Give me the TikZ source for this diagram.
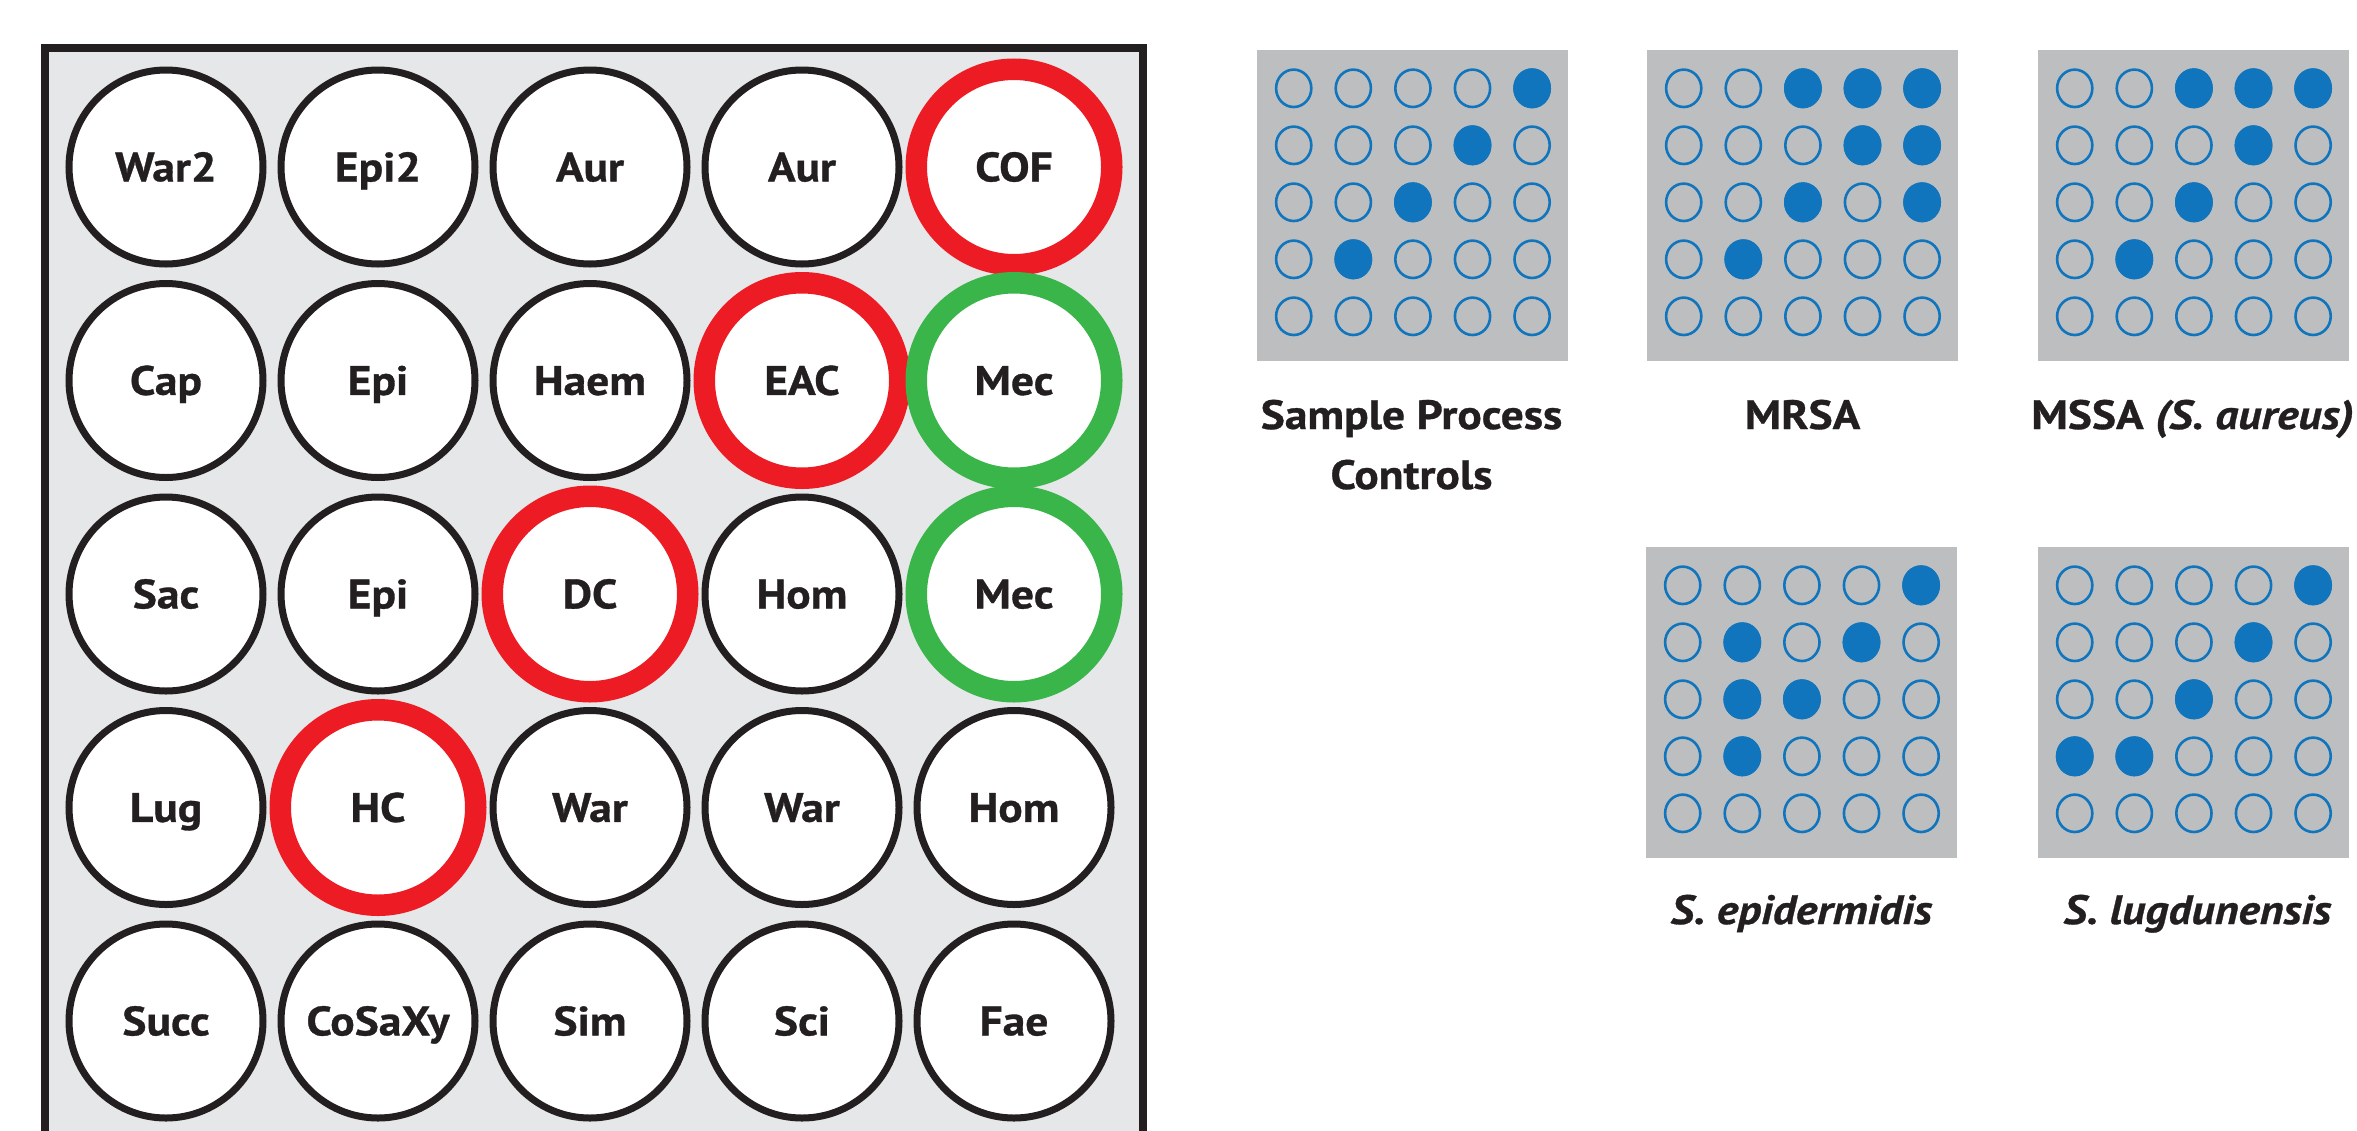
\documentclass[tikz,border=0pt]{standalone}
\usepackage{fontspec}
\setmainfont{PT Sans}[
  BoldFeatures={FakeStretch=1.11, FakeBold=0.8},
  BoldItalicFeatures={FakeStretch=1.11, FakeBold=0.8}]
\definecolor{ink}{HTML}{231F20}
\definecolor{panel}{HTML}{E6E7E8}
\definecolor{chip}{HTML}{BCBEC0}
\definecolor{dotblue}{HTML}{1075BC}
\definecolor{ringred}{HTML}{ED1C24}
\definecolor{ringgreen}{HTML}{39B54A}
\newcommand\labfont{\fontsize{41}{48}\selectfont\bfseries}
% one 5x5 detection chip: grey plate, open wells, filled (row/col) wells
\newcommand\chipgrid[3]{%
  \fill[chip] (#1,#2) rectangle ++(311,311);
  \foreach \rr in {0,...,4}{
    \foreach \cc in {0,...,4}{
      \draw[dotblue, line width=2.6pt] ({#1+36.7+59.6*\cc},{#2+38.3+57*\rr}) ellipse [x radius=17.6pt, y radius=18.7pt];
    }
  }
  \foreach \rr/\cc in {#3}{
    \fill[dotblue] ({#1+36.7+59.6*(\cc-1)},{#2+38.3+57*(\rr-1)}) ellipse [x radius=18.9pt, y radius=20pt];
  }
}
\begin{document}
\begin{tikzpicture}[x=1pt,y=-1pt,
  well/.style={circle, minimum size=194pt, inner sep=0pt, draw=ink, line width=7pt,
    fill=white, font=\labfont, text=ink, text height=28.7pt, text depth=0pt},
  redwell/.style={well, draw=ringred, line width=21.5pt, minimum size=195.5pt},
  greenwell/.style={well, draw=ringgreen, line width=21.5pt, minimum size=195.5pt},
  lab/.style={font=\labfont, text=ink, inner sep=0pt, anchor=base}]
\useasboundingbox (0,0) rectangle (2357,1130);
\clip (0,0) rectangle (2357,1130);
\fill[white] (0,0) rectangle (2357,1130);

% test panel with its 25 wells
\draw[line width=8pt, draw=ink, fill=panel] (45,48) rectangle (1143,1170);
\foreach \lab/\sty [count=\i from 0] in {
  War2/well, Epi2/well, Aur/well, Aur/well, COF/redwell,
  Cap/well, Epi/well, Haem/well, EAC/redwell, Mec/greenwell,
  Sac/well, Epi/well, DC/redwell, Hom/well, Mec/greenwell,
  Lug/well, HC/redwell, War/well, War/well, Hom/well,
  Succ/well, CoSaXy/well, Sim/well, Sci/well, Fae/well}{
  \pgfmathtruncatemacro\r{int(\i/5)}
  \pgfmathtruncatemacro\c{mod(\i,5)}
  \node[\sty] (w\i) at ({166+212*\c},{167+213.5*\r}) {\lab};
}

% result chips
\chipgrid{1257}{50}{1/5,2/4,3/3,4/2}
\chipgrid{1647}{50}{1/3,1/4,1/5,2/4,2/5,3/3,3/5,4/2}
\chipgrid{2038}{50}{1/3,1/4,1/5,2/4,3/3,4/2}
\chipgrid{1646}{547}{1/5,2/2,2/4,3/2,3/3,4/2}
\chipgrid{2038}{547}{1/5,2/4,3/3,4/1,4/2}

\node[lab] (spc1) at (1411.5,429) {Sample Process};
\node[lab] (spc2) at (1411.5,489) {Controls};
\node[lab] (mrsa) at (1802.5,429) {MRSA};
\node[lab, anchor=base east] (mssa) at (2354,429) {MSSA \textit{(S. aureus)}};
\node[lab] (sepi) at (1801.5,924) {\textit{S. epidermidis}};
\node[lab] (slug) at (2197.5,924) {\textit{S. lugdunensis}};
\end{tikzpicture}
\end{document}
